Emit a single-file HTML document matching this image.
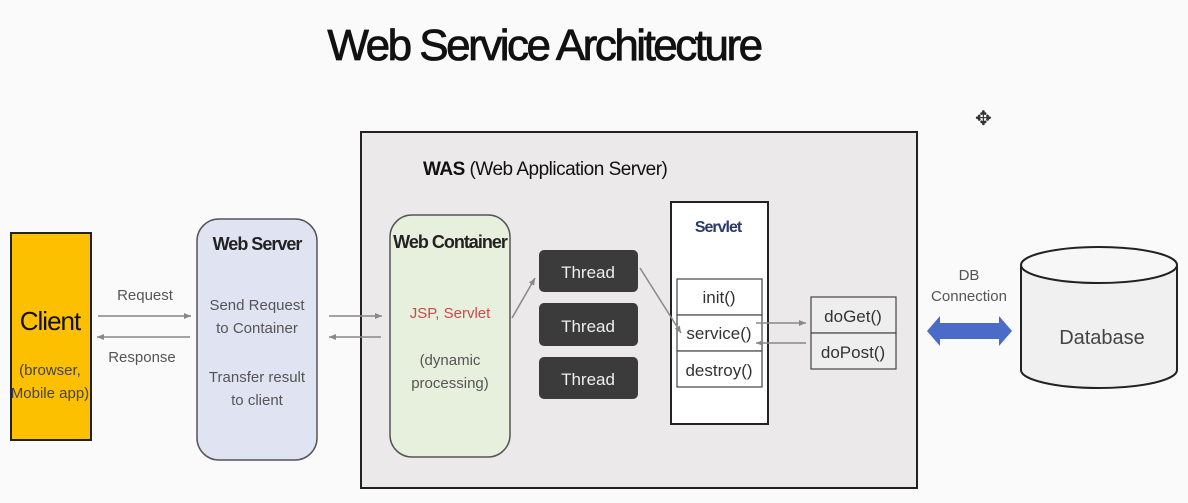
<!DOCTYPE html>
<html><head><style>
html,body{margin:0;padding:0;background:#fafafa;}
svg{display:block;font-family:"Liberation Sans",sans-serif;}
</style></head><body>
<svg width="1188" height="503" viewBox="0 0 1188 503">
<defs>
<marker id="ah" markerWidth="8" markerHeight="8" refX="7" refY="4" orient="auto" markerUnits="userSpaceOnUse"><path d="M0,1 L7,4 L0,7 z" fill="#888"/></marker>
</defs>
<rect width="1188" height="503" fill="#fafafa"/>
<text x="544" y="60" text-anchor="middle" font-size="44" fill="#111" stroke="#111" stroke-width="0.8" style="letter-spacing:-2.5px">Web Service Architecture</text>
<text x="975" y="125" font-size="20" fill="#333">✥</text>
<rect x="361" y="132" width="556" height="356" fill="#ebe9ea" stroke="#222" stroke-width="2"/>
<text x="423" y="175" font-size="19" fill="#111" style="letter-spacing:-0.5px"><tspan font-weight="bold">WAS</tspan> (Web Application Server)</text>
<rect x="11" y="233" width="80" height="207" fill="#fdc000" stroke="#222" stroke-width="2"/>
<text x="50" y="330" text-anchor="middle" font-size="26" fill="#111" style="letter-spacing:-1px">Client</text>
<text x="50" y="375" text-anchor="middle" font-size="15" fill="#444">(browser,</text>
<text x="50" y="398" text-anchor="middle" font-size="15" fill="#444">Mobile app)</text>
<line x1="98" y1="316" x2="191" y2="316" stroke="#888" stroke-width="1.5" marker-end="url(#ah)"/>
<line x1="190" y1="337" x2="97" y2="337" stroke="#888" stroke-width="1.5" marker-end="url(#ah)"/>
<text x="145" y="300" text-anchor="middle" font-size="15" fill="#555">Request</text>
<text x="142" y="362" text-anchor="middle" font-size="15" fill="#555">Response</text>
<rect x="197" y="219" width="120" height="241" rx="22" fill="#dfe3f2" stroke="#555" stroke-width="1.5"/>
<text x="257" y="250" text-anchor="middle" font-size="18" font-weight="bold" fill="#222" style="letter-spacing:-1px">Web Server</text>
<text x="257" y="310" text-anchor="middle" font-size="15" fill="#555">Send Request</text>
<text x="257" y="333" text-anchor="middle" font-size="15" fill="#555">to Container</text>
<text x="257" y="382" text-anchor="middle" font-size="15" fill="#555">Transfer result</text>
<text x="257" y="405" text-anchor="middle" font-size="15" fill="#555">to client</text>
<line x1="329" y1="316" x2="382" y2="316" stroke="#888" stroke-width="1.5" marker-end="url(#ah)"/>
<line x1="381" y1="337" x2="329" y2="337" stroke="#888" stroke-width="1.5" marker-end="url(#ah)"/>
<rect x="390" y="215" width="120" height="242" rx="22" fill="#e6f0dc" stroke="#555" stroke-width="1.5"/>
<text x="450" y="248" text-anchor="middle" font-size="18" font-weight="bold" fill="#222" style="letter-spacing:-1px">Web Container</text>
<text x="450" y="318" text-anchor="middle" font-size="15" fill="#d04848">JSP, Servlet</text>
<text x="450" y="365" text-anchor="middle" font-size="15" fill="#555">(dynamic</text>
<text x="450" y="388" text-anchor="middle" font-size="15" fill="#555">processing)</text>
<line x1="512" y1="318" x2="535" y2="278" stroke="#888" stroke-width="1.5" marker-end="url(#ah)"/>
<rect x="539" y="250" width="99" height="42" rx="5" fill="#3b3b3b"/>
<rect x="539" y="303" width="99" height="43" rx="5" fill="#3b3b3b"/>
<rect x="539" y="357" width="99" height="42" rx="5" fill="#3b3b3b"/>
<text x="588" y="278" text-anchor="middle" font-size="17" fill="#eee">Thread</text>
<text x="588" y="332" text-anchor="middle" font-size="17" fill="#eee">Thread</text>
<text x="588" y="385" text-anchor="middle" font-size="17" fill="#eee">Thread</text>
<rect x="671" y="202" width="97" height="222" fill="#fff" stroke="#222" stroke-width="2"/>
<text x="718" y="232" text-anchor="middle" font-size="16" font-weight="bold" fill="#2a3a6a" style="letter-spacing:-1px">Servlet</text>
<rect x="677" y="279" width="85" height="36" fill="#fff" stroke="#444" stroke-width="1.2"/>
<rect x="677" y="315" width="85" height="36" fill="#fff" stroke="#444" stroke-width="1.2"/>
<rect x="677" y="351" width="85" height="36" fill="#fff" stroke="#444" stroke-width="1.2"/>
<text x="719" y="303" text-anchor="middle" font-size="17" fill="#333">init()</text>
<text x="719" y="339" text-anchor="middle" font-size="17" fill="#333">service()</text>
<text x="719" y="376" text-anchor="middle" font-size="17" fill="#333">destroy()</text>
<line x1="640" y1="268" x2="681" y2="333" stroke="#888" stroke-width="1.5" marker-end="url(#ah)"/>
<line x1="756" y1="323" x2="806" y2="323" stroke="#888" stroke-width="1.5" marker-end="url(#ah)"/>
<line x1="806" y1="343" x2="756" y2="343" stroke="#888" stroke-width="1.5" marker-end="url(#ah)"/>
<rect x="811" y="297" width="85" height="36" fill="#eee" stroke="#444" stroke-width="1.2"/>
<rect x="811" y="333" width="85" height="36" fill="#eee" stroke="#444" stroke-width="1.2"/>
<text x="853" y="322" text-anchor="middle" font-size="17" fill="#333">doGet()</text>
<text x="853" y="358" text-anchor="middle" font-size="17" fill="#333">doPost()</text>
<path d="M927,331 L940,316 L940,323 L999,323 L999,316 L1012,331 L999,346 L999,339 L940,339 L940,346 z" fill="#4a6cc8"/>
<text x="969" y="280" text-anchor="middle" font-size="15" fill="#555">DB</text>
<text x="969" y="301" text-anchor="middle" font-size="15" fill="#555">Connection</text>
<path d="M1021,265 L1021,370 A78,18 0 0 0 1177,370 L1177,265" fill="#f0f0f0" stroke="#222" stroke-width="2"/>
<ellipse cx="1099" cy="265" rx="78" ry="18" fill="#f7f7f7" stroke="#222" stroke-width="2"/>
<text x="1102" y="344" text-anchor="middle" font-size="20" fill="#444">Database</text>
</svg>
</body></html>
